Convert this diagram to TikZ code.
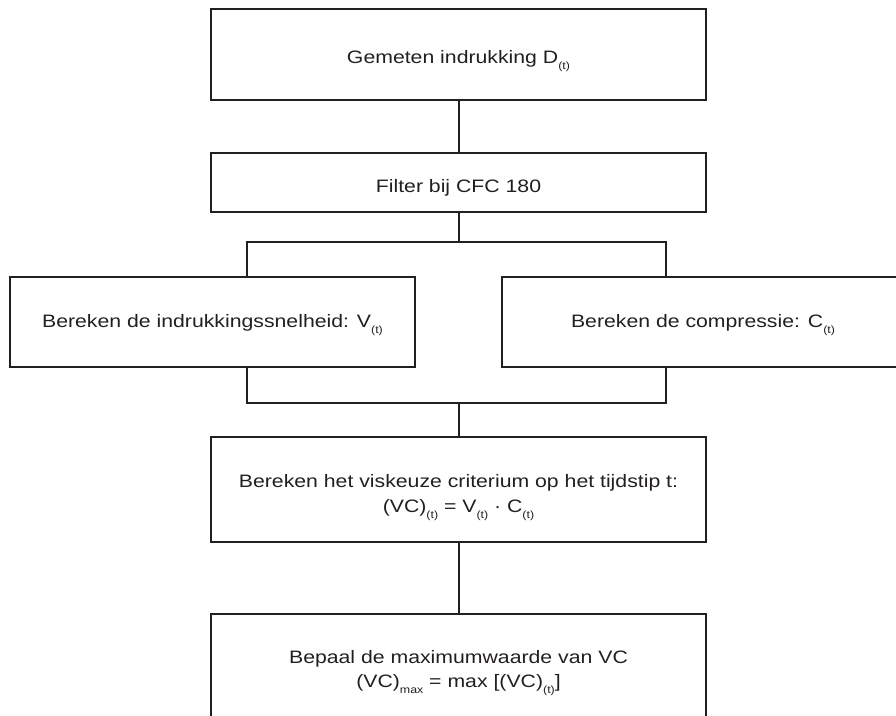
\documentclass[tikz,border=0pt]{standalone}
\usepackage{fontspec}
\setmainfont{Liberation Sans}[FakeStretch=1.18]
\newcommand{\lsub}[1]{\raisebox{-6.5pt}{\fontsize{10.5}{10.5}\selectfont #1}}
\definecolor{ink}{HTML}{231F20}
\begin{document}
\begin{tikzpicture}[x=1pt,y=-1pt,
  box/.style={draw=ink, line width=2pt, rectangle, inner sep=0pt, line join=miter},
  lbl/.style={anchor=base, inner sep=0pt, text=ink, font=\fontsize{18}{18}\selectfont},
  link/.style={draw=ink, line width=2pt, line join=miter}]
\useasboundingbox (0,0) rectangle (896,715);
\clip (0,0) rectangle (896,715);
% boxes
\node[box, minimum width=495pt, minimum height=91pt] (top) at (458.5,54.5) {};
\node[box, minimum width=495pt, minimum height=59pt] (filter) at (458.5,182.5) {};
\node[box, minimum width=405pt, minimum height=90pt] (left) at (212.5,322) {};
\node[box, minimum width=405pt, minimum height=90pt] (right) at (704.5,322) {};
\node[box, minimum width=495pt, minimum height=105pt] (vc) at (458.5,489.5) {};
\node[box, minimum width=495pt, minimum height=112pt] (bot) at (458.5,670) {};
% connector points
\coordinate (bt) at (458.5,242);
\coordinate (btl) at (247,242);
\coordinate (btr) at (666,242);
\coordinate (bb) at (458.5,403);
\coordinate (bbl) at (247,403);
\coordinate (bbr) at (666,403);
% connectors
\draw[link] (top) -- (filter);
\draw[link] (filter) -- (bt);
\draw[link] (left.north -| btl) -- (btl) -- (btr) -- (right.north -| btr);
\draw[link] (left.south -| bbl) -- (bbl) -- (bbr) -- (right.south -| bbr);
\draw[link] (bb) -- (vc);
\draw[link] (vc) -- (bot);
% texts
\node[lbl] (t1) at (458.5,63) {Gemeten indrukking D\lsub{(t)}};
\node[lbl] (t2) at (458.5,192) {Filter bij CFC 180};
\node[lbl] (t3) at (212.5,327) {Bereken de indrukkingssnelheid: V\lsub{(t)}};
\node[lbl] (t4) at (703,327) {Bereken de compressie: C\lsub{(t)}};
\node[lbl] (t5) at (458.5,487) {Bereken het viskeuze criterium op het tijdstip t:};
\node[lbl] (t6) at (458.5,512) {(VC)\lsub{(t)} = V\lsub{(t)} · C\lsub{(t)}};
\node[lbl] (t7) at (458.5,663) {Bepaal de maximumwaarde van VC};
\node[lbl] (t8) at (458.5,687) {(VC)\lsub{max} = max [(VC)\lsub{(t)}]};
\end{tikzpicture}
\end{document}
